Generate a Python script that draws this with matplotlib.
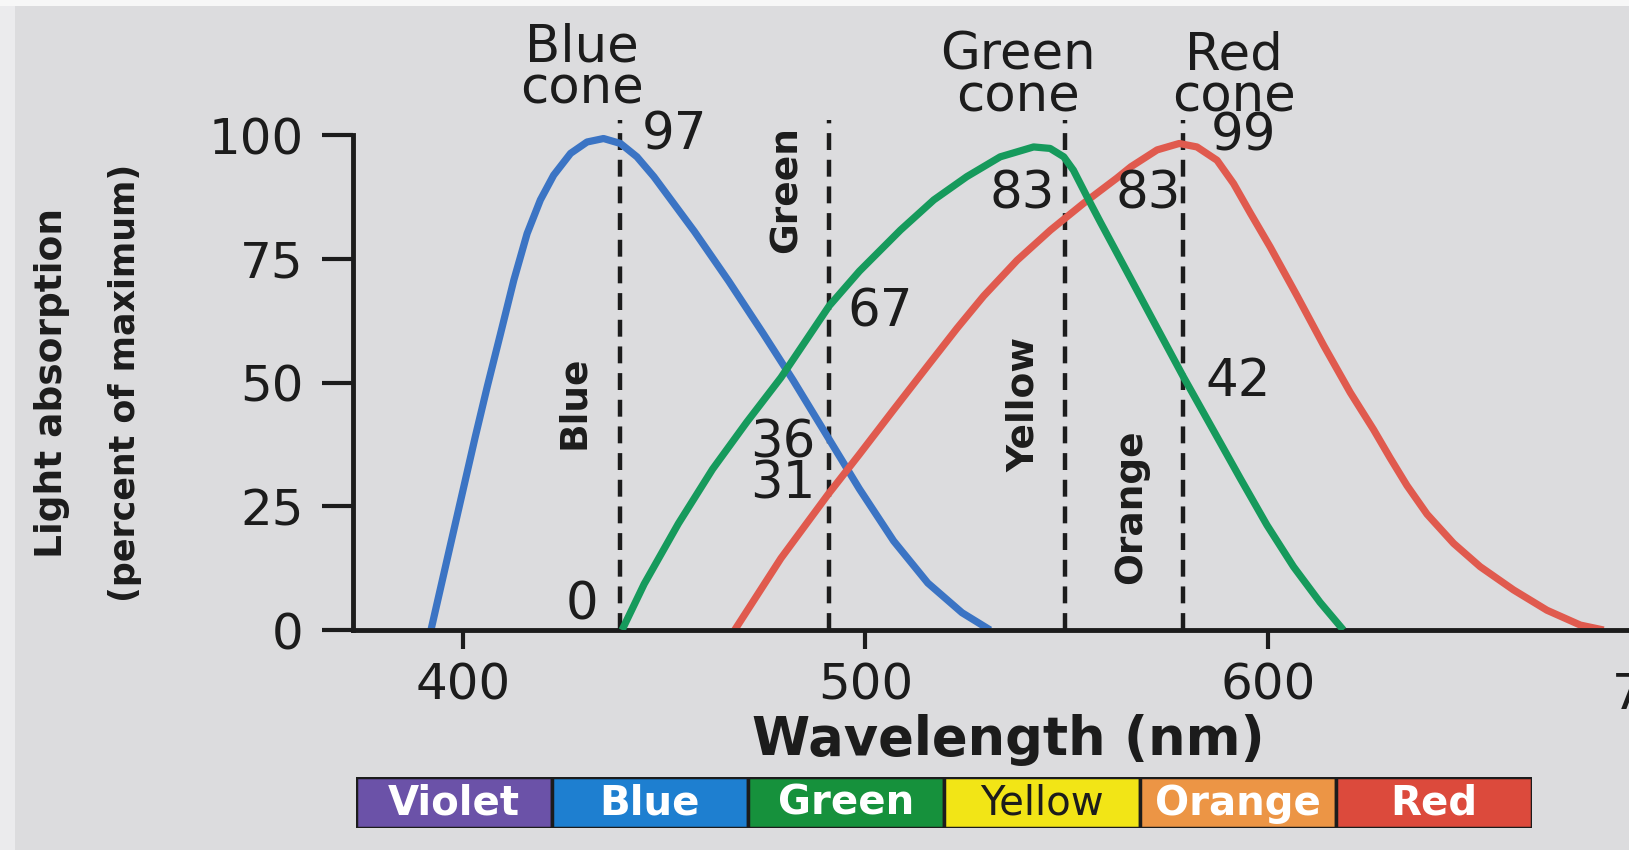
import matplotlib
matplotlib.use('Agg')
from matplotlib import pyplot as plt
from matplotlib import font_manager
from matplotlib.patches import Rectangle

# cone absorption curves (nm, percent of maximum)
blue_nm = [392, 396.5, 403, 406, 409.3, 412.6, 415.9, 419.2, 422.5, 426.7, 430.8, 434.9,
           439.1, 443.2, 447.4, 457.5, 466, 474.5, 482, 491, 498.5, 507, 515.5, 524, 531]
blue_val = [0, 16, 39, 49.2, 59.9, 70.7, 80.1, 86.9, 91.9, 96.3, 98.6, 99.3,
            98.3, 95.6, 91.6, 80.5, 70.5, 60, 50.5, 38.5, 28.5, 18, 9.5, 3.5, 0]

green_nm = [439.5, 445, 453.5, 462, 470.5, 479, 491, 498.5, 508.7, 517, 525.2, 533.5,
            541.8, 545.9, 549.3, 551.7, 555.1, 558.4, 562.5, 566, 571, 574.1, 579, 587,
            593.2, 599.8, 606.4, 613, 618.8]
green_val = [0, 9.3, 21.5, 32.5, 42, 51, 65.5, 72.5, 80.8, 86.9, 91.6, 95.6,
             97.6, 97.3, 95.6, 92.9, 87.5, 82.4, 76.2, 70.9, 63.3, 58.6, 51.2, 39.6,
             30.6, 21.2, 12.8, 5.6, 0]

red_nm = [467.5, 479, 490.8, 498.5, 507, 515.5, 522.8, 529.4, 537.7, 546, 554.2, 562.5,
          566, 572.5, 578, 582.4, 587.4, 591.5, 595.7, 600.6, 607.3, 613.9, 620.5, 626.3,
          630.4, 634.6, 639.6, 646.2, 652.8, 661.1, 669.4, 677.7, 683.5]
red_val = [0, 14.5, 27.5, 35.5, 44.5, 53.4, 61, 67.5, 74.7, 80.8, 86.2, 91.3,
           93.6, 97, 98.3, 97.6, 94.9, 90.2, 84.2, 77.4, 67.5, 57.5, 48, 40.5,
           34.8, 29.2, 23.4, 17.5, 12.8, 8.1, 4, 1, 0]

# monochromatic test lights
test_nm = [439, 491, 549.5, 579]
test_names = ['Blue', 'Green', 'Yellow', 'Orange']
test_name_pos = [(427.5, 46), (480.5, 89), (539.3, 45.5), (566, 25)]

# stimulation values written next to the dashed lines
num_labels = ['97', '0', '67', '36', '31', '83', '83', '99', '42']
num_pos = [(444.5, 100), (433.5, 5), (495.5, 64.2), (487.5, 37.6), (487.5, 29.3),
           (547.2, 87.9), (578.5, 87.9), (585.8, 99.8), (584.5, 50.1)]
num_ha = ['left', 'right', 'left', 'right', 'right', 'right', 'right', 'left', 'left']

cone_labels = ['Blue\ncone', 'Green\ncone', 'Red\ncone']
cone_x = [429.6, 538, 591.5]
cone_y = [113.4, 111.8, 111.8]

band_labels = ['Violet', 'Blue', 'Green', 'Yellow', 'Orange', 'Red']
band_colors = ['#6b52a8', '#1e7fd0', '#16913c', '#f2e516', '#ec9545', '#dc4a3c']

ink = '#1c1c1c'
names = {f.name for f in font_manager.fontManager.ttflist}
if 'Liberation Sans Narrow' in names:
    cond_family, cond_size = 'Liberation Sans Narrow', 36
elif 'DejaVu Sans Condensed' in names:
    cond_family, cond_size = 'DejaVu Sans Condensed', 30
else:
    cond_family, cond_size = 'DejaVu Sans', 27

fig = plt.figure(figsize=(16.29, 8.5), dpi=100)
fig.patch.set_facecolor('#dcdcde')
# paper edges of the photo
fig.add_artist(Rectangle((0, 0), 15 / 1629, 1, transform=fig.transFigure,
                         facecolor='#ebebed', edgecolor='none', zorder=0))
fig.add_artist(Rectangle((0, 1 - 6 / 850), 1, 6 / 850, transform=fig.transFigure,
                         facecolor='#f7f7f7', edgecolor='none', zorder=0))

ax = fig.add_axes([0.2164, 0.2588, 0.7836, 0.6056])
ax.set_facecolor('none')
ax.set_xlim(372.5, 689.8)
ax.set_ylim(0, 104)

for s in ['top', 'right']:
    ax.spines[s].set_visible(False)
ax.spines['left'].set_bounds(0, 100)
for s in ['left', 'bottom']:
    ax.spines[s].set_linewidth(3.5)
    ax.spines[s].set_color(ink)

ax.set_yticks([0, 25, 50, 75, 100])
ax.set_xticks([400, 500, 600])
ax.tick_params(axis='y', length=22, width=3, pad=13, labelsize=36, colors=ink)
ax.tick_params(axis='x', length=14, width=3, pad=9, labelsize=36, colors=ink)
# 700 falls just past the edge of the photo, only its first digit shows
ax.text(697.5, -8.3, '700', ha='center', va='top', fontsize=36, color=ink, clip_on=False)

ax.vlines(test_nm, 0, 103, colors=ink, linewidth=3.2, linestyles=(0, (3.8, 2.2)), zorder=1)

for xs, ys, c, z in [(blue_nm, blue_val, '#3b74c4', 2), (red_nm, red_val, '#e05a4e', 2),
                     (green_nm, green_val, '#169a5c', 3)]:
    ax.plot(xs, ys, color=c, lw=5.2, solid_capstyle='butt', solid_joinstyle='round', zorder=z)

for name, (x, y) in zip(test_names, test_name_pos):
    ax.text(x, y, name, rotation=90, ha='center', va='center', color=ink,
            family=cond_family, fontsize=cond_size, fontweight='bold')

for lab, (x, y), ha in zip(num_labels, num_pos, num_ha):
    ax.text(x, y, lab, ha=ha, va='center', fontsize=37, color=ink)

for lab, x, y in zip(cone_labels, cone_x, cone_y):
    ax.text(x, y, lab, ha='center', va='center', fontsize=37, color=ink,
            linespacing=0.8, clip_on=False)

fig.text(1008 / 1629, 1 - 740 / 850, 'Wavelength (nm)', ha='center', va='center',
         fontsize=38, fontweight='bold', color=ink)
fig.text(52 / 1629, 1 - 383 / 850, 'Light absorption', rotation=90, ha='center',
         va='center', color=ink, family=cond_family, fontsize=cond_size, fontweight='bold')
fig.text(125 / 1629, 1 - 383 / 850, '(percent of maximum)', rotation=90, ha='center',
         va='center', color=ink, family=cond_family, fontsize=cond_size * 0.93,
         fontweight='bold')

# wavelength colour band under the axis
bx = fig.add_axes([0.2185, 0.026, 0.722, 0.06])
bx.set_xlim(0, 6)
bx.set_ylim(0, 1)
bx.axis('off')
bx.bar(range(6), 1, width=1, align='edge', color=band_colors, edgecolor=ink, linewidth=2.5)
for i, lab in enumerate(band_labels):
    if lab == 'Yellow':
        bx.text(i + 0.5, 0.47, lab, ha='center', va='center', fontsize=29, color=ink)
    else:
        bx.text(i + 0.5, 0.47, lab, ha='center', va='center', fontsize=29,
                fontweight='bold', color='white')

fig.savefig('out.png', dpi=100, facecolor=fig.get_facecolor())
